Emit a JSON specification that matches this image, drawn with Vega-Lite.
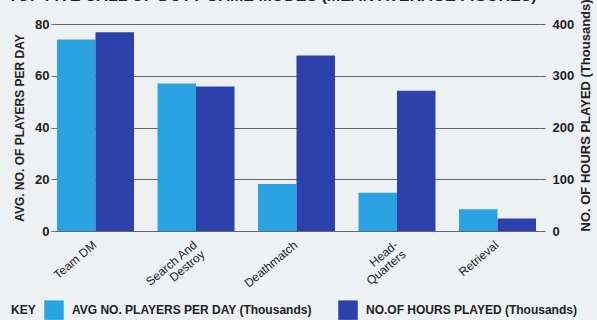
{
  "$schema": "https://vega.github.io/schema/vega-lite/v6.json",
  "autosize": {"type": "none"},
  "width": 485,
  "height": 207,
  "padding": {"left": 54, "top": 24, "right": 58, "bottom": 89},
  "background": "#edf1f4",
  "title": {
    "text": "TOP FIVE CALL OF DUTY GAME MODES (MEAN AVERAGE FIGURES)",
    "anchor": "start",
    "frame": "group",
    "dx": -46,
    "offset": -18,
    "baseline": "alphabetic",
    "font": "Liberation Sans",
    "fontSize": 16,
    "fontWeight": "bold",
    "color": "#222222"
  },
  "config": {"view": {"stroke": null}, "font": "Liberation Sans"},
  "data": {
    "values": [
      {"mode": "Team DM", "metric": "AVG NO. PLAYERS PER DAY (Thousands)", "value": 74},
      {"mode": "Search And\nDestroy", "metric": "AVG NO. PLAYERS PER DAY (Thousands)", "value": 57},
      {"mode": "Deathmatch", "metric": "AVG NO. PLAYERS PER DAY (Thousands)", "value": 18.2},
      {"mode": "Head-\nQuarters", "metric": "AVG NO. PLAYERS PER DAY (Thousands)", "value": 14.8},
      {"mode": "Retrieval", "metric": "AVG NO. PLAYERS PER DAY (Thousands)", "value": 8.4},
      {"mode": "Team DM", "metric": "NO.OF HOURS PLAYED (Thousands)", "value": 384},
      {"mode": "Search And\nDestroy", "metric": "NO.OF HOURS PLAYED (Thousands)", "value": 279},
      {"mode": "Deathmatch", "metric": "NO.OF HOURS PLAYED (Thousands)", "value": 339},
      {"mode": "Head-\nQuarters", "metric": "NO.OF HOURS PLAYED (Thousands)", "value": 271},
      {"mode": "Retrieval", "metric": "NO.OF HOURS PLAYED (Thousands)", "value": 24}
    ]
  },
  "encoding": {
    "x": {
      "field": "mode",
      "type": "nominal",
      "sort": null,
      "scale": {"paddingInner": 0.234, "paddingOuter": 0.03},
      "axis": {
        "title": null,
        "labelAngle": -40,
        "labelAlign": "right",
        "labelBaseline": "top",
        "labelFontSize": 12,
        "labelColor": "#222222",
        "labelPadding": 8,
        "labelOffset": -4,
        "labelLineHeight": 12,
        "ticks": false,
        "domain": false,
        "labelExpr": "split(datum.label, '\\n')"
      }
    },
    "xOffset": {
      "field": "metric",
      "type": "nominal",
      "sort": null,
      "scale": {
        "domain": ["AVG NO. PLAYERS PER DAY (Thousands)", "NO.OF HOURS PLAYED (Thousands)"],
        "paddingInner": 0,
        "paddingOuter": 0
      }
    },
    "color": {
      "field": "metric",
      "type": "nominal",
      "scale": {
        "domain": ["AVG NO. PLAYERS PER DAY (Thousands)", "NO.OF HOURS PLAYED (Thousands)"],
        "range": ["#2ba3e2", "#2d41ad"]
      },
      "legend": {
        "title": "KEY",
        "orient": "none",
        "legendX": -43,
        "legendY": 276,
        "direction": "horizontal",
        "titleOrient": "left",
        "titleFontSize": 12,
        "titleFontWeight": "bold",
        "titleColor": "#222222",
        "titlePadding": 8,
        "labelFontSize": 12,
        "labelFontWeight": "bold",
        "labelColor": "#222222",
        "symbolType": "square",
        "symbolSize": 380,
        "symbolStrokeWidth": 0,
        "symbolOpacity": 1,
        "labelLimit": 0,
        "labelOffset": 8,
        "columnPadding": 26
      }
    }
  },
  "layer": [
    {
      "transform": [{"filter": "datum.metric === 'AVG NO. PLAYERS PER DAY (Thousands)'"}],
      "mark": {"type": "bar"},
      "encoding": {
        "y": {
          "field": "value",
          "type": "quantitative",
          "scale": {"domain": [0, 80]},
          "axis": {
            "title": "AVG. NO. OF PLAYERS PER DAY",
            "titleFontSize": 12,
            "titleFontWeight": "bold",
            "titleColor": "#222222",
            "titlePadding": 8,
            "values": [0, 20, 40, 60, 80],
            "labelFontSize": 13,
            "labelFontWeight": "bold",
            "labelColor": "#222222",
            "labelPadding": 2,
            "tickSize": 3,
            "tickColor": "#666666",
            "domain": false,
            "grid": true,
            "gridColor": "#666666",
            "gridWidth": 1
          }
        }
      }
    },
    {
      "transform": [{"filter": "datum.metric === 'NO.OF HOURS PLAYED (Thousands)'"}],
      "mark": {"type": "bar"},
      "encoding": {
        "y": {
          "field": "value",
          "type": "quantitative",
          "scale": {"domain": [0, 400]},
          "axis": {
            "orient": "right",
            "title": "NO. OF HOURS PLAYED (Thousands)",
            "titleFontSize": 13,
            "titleFontWeight": "bold",
            "titleColor": "#222222",
            "titleAngle": 270,
            "titleAnchor": "start",
            "titleAlign": "left",
            "titleBaseline": "top",
            "titlePadding": 6,
            "values": [0, 100, 200, 300, 400],
            "labelFontSize": 13,
            "labelFontWeight": "bold",
            "labelColor": "#222222",
            "labelPadding": 7,
            "tickSize": 6,
            "tickColor": "#666666",
            "domain": false,
            "grid": false
          }
        }
      }
    }
  ],
  "resolve": {"scale": {"y": "independent"}, "axis": {"y": "independent"}}
}
